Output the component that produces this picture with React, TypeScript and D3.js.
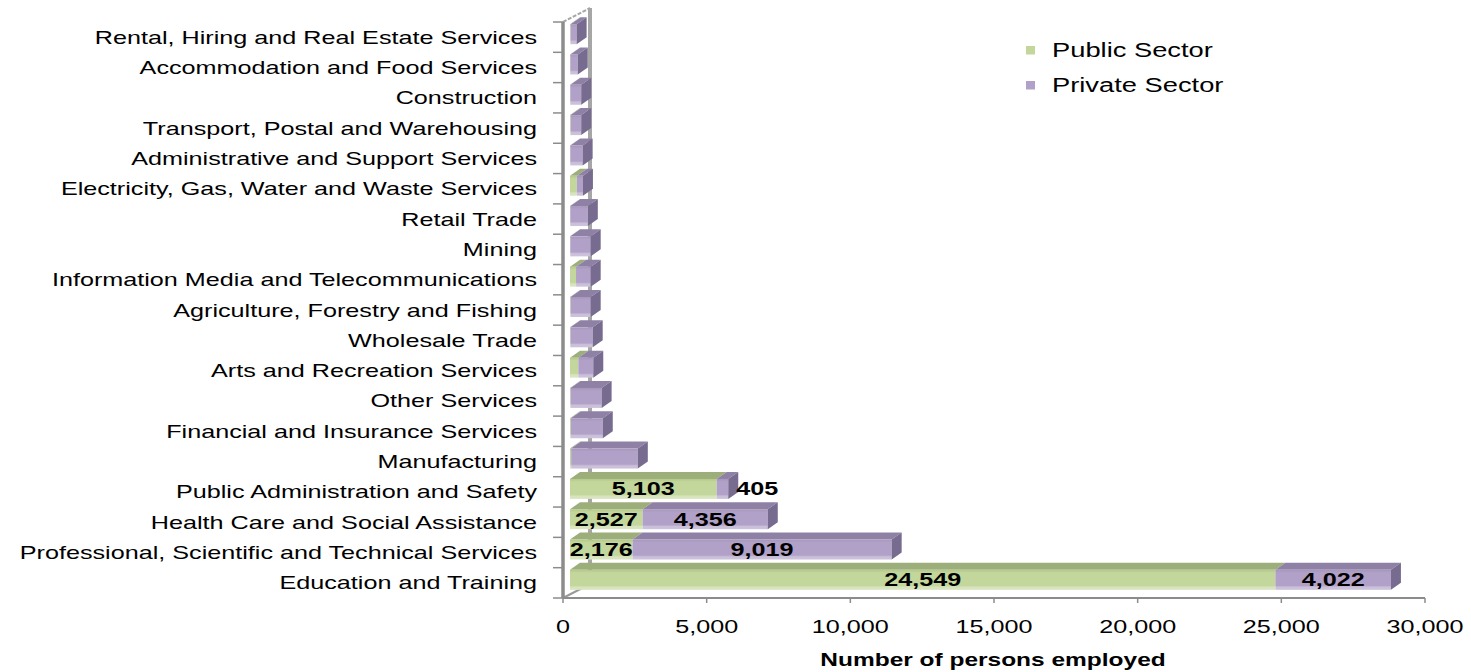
import React from "react";
import * as d3 from "d3";

// Industries, listed from the bottom of the chart to the top
const categories: string[] = [
  "Education and Training",
  "Professional, Scientific and Technical Services",
  "Health Care and Social Assistance",
  "Public Administration and Safety",
  "Manufacturing",
  "Financial and Insurance Services",
  "Other Services",
  "Arts and Recreation Services",
  "Wholesale Trade",
  "Agriculture, Forestry and Fishing",
  "Information Media and Telecommunications",
  "Mining",
  "Retail Trade",
  "Electricity, Gas, Water and Waste Services",
  "Administrative and Support Services",
  "Transport, Postal and Warehousing",
  "Construction",
  "Accommodation and Food Services",
  "Rental, Hiring and Real Estate Services",
];

const publicSector: number[] = [
  24549, 2176, 2527, 5103, 40, 30, 20, 290, 15, 20, 210, 10, 10, 240, 10, 25, 10, 10, 20,
];

const privateSector: number[] = [
  4022, 9019, 4356, 405, 2320, 1110, 1080, 520, 775, 700, 510, 710, 610, 210, 430, 365, 380, 260, 210,
];

// Industries whose segment values are printed on the bars
const labelledCategories: string[] = [
  "Education and Training",
  "Professional, Scientific and Technical Services",
  "Health Care and Social Assistance",
  "Public Administration and Safety",
];

const xTicks: number[] = [0, 5000, 10000, 15000, 20000, 25000, 30000];

const seriesNames: string[] = ["Public Sector", "Private Sector"];

const W = 1471;
const H = 672;
const FONT = "'Liberation Sans', Arial, Helvetica, sans-serif";
const SX = 1.4; // horizontal stretch of all lettering

const palette = [
  { front: "url(#gGreen)", top: "#9cae79", side: "#8a9b68", swatch: "#c3d69b" },
  { front: "url(#gPurple)", top: "#8e81a5", side: "#786b90", swatch: "#b1a0c7" },
];

function SText(props: {
  x: number;
  y: number;
  anchor?: "start" | "middle" | "end";
  size?: number;
  bold?: boolean;
  children: React.ReactNode;
}) {
  const { x, y, anchor = "start", size = 18, bold = false, children } = props;
  return (
    <text
      transform={`translate(${x},${y}) scale(${SX},1)`}
      textAnchor={anchor}
      fontFamily={FONT}
      fontSize={size}
      fontWeight={bold ? "bold" : "normal"}
      fill="#000"
    >
      {children}
    </text>
  );
}

export default function App() {
  const x0 = 563;
  const x1 = 1425;
  const yTop = 22;
  const yBot = 598;
  const wallDx = 27;
  const wallDy = -14;
  const barOx = 7; // front face shift from the axis plane
  const barOy = -3;
  const depthX = 10;
  const depthY = -7;
  const faceH = 20;

  const x = d3.scaleLinear().domain([0, 30000]).range([x0, x1]);
  const y = d3.scaleBand<string>().domain(categories).range([yBot, yTop]).padding(0);
  const bw = y.bandwidth();
  const fmt = d3.format(",");

  const bars = categories.map((c, i) => {
    const vals = [publicSector[i], privateSector[i]];
    const cy = (y(c) as number) + bw / 2 + barOy;
    const top = cy - faceH / 2;
    const bottom = cy + faceH / 2;
    let acc = 0;
    const segs = vals.map((v, s) => {
      const a = x(acc) + barOx;
      acc += v;
      const b = x(acc) + barOx;
      return { s, v, a, b };
    });
    return { c, i, cy, top, bottom, segs };
  });

  const boundaries = d3.range(categories.length + 1).map((k) => yBot - k * bw);

  return (
    <svg
      width={W}
      height={H}
      style={{ position: "absolute", left: 0, top: 0, background: "#fff" }}
    >
      <defs>
        <linearGradient id="gGreen" x1="0" y1="0" x2="0" y2="1">
          <stop offset="0" stopColor="#b5c88a" />
          <stop offset="0.15" stopColor="#c3d69b" />
          <stop offset="0.78" stopColor="#c3d69b" />
          <stop offset="0.86" stopColor="#d6e3bb" />
          <stop offset="1" stopColor="#d9e5c0" />
        </linearGradient>
        <linearGradient id="gPurple" x1="0" y1="0" x2="0" y2="1">
          <stop offset="0" stopColor="#a596bb" />
          <stop offset="0.15" stopColor="#b1a0c7" />
          <stop offset="0.78" stopColor="#b1a0c7" />
          <stop offset="0.86" stopColor="#c9bfd9" />
          <stop offset="1" stopColor="#cdc3dc" />
        </linearGradient>
      </defs>

      {/* back wall edge and frame diagonals */}
      <line x1={x0 + wallDx} y1={yTop + wallDy} x2={x0 + wallDx} y2={yBot + wallDy} stroke="#a6a6a6" strokeWidth={4} />
      <line x1={x0} y1={yTop} x2={x0 + wallDx} y2={yTop + wallDy} stroke="#a6a6a6" strokeWidth={2} strokeDasharray="4,1.5" />
      <line x1={x0} y1={yBot} x2={x0 + wallDx} y2={yBot + wallDy} stroke="#9a9a9a" strokeWidth={2} />

      {/* bars */}
      {bars.map((bar) => {
        const nonZero = bar.segs.filter((s) => s.v > 0);
        const last = nonZero[nonZero.length - 1];
        return (
          <g key={bar.c}>
            {bar.segs.map((sg) => (
              <g key={sg.s}>
                <polygon
                  points={`${sg.a},${bar.top} ${sg.b},${bar.top} ${sg.b + depthX},${bar.top + depthY} ${sg.a + depthX},${bar.top + depthY}`}
                  fill={palette[sg.s].top}
                />
                <rect x={sg.a} y={bar.top} width={Math.max(0, sg.b - sg.a)} height={faceH} fill={palette[sg.s].front} />
              </g>
            ))}
            {last && (
              <polygon
                points={`${last.b},${bar.top} ${last.b + depthX},${bar.top + depthY} ${last.b + depthX},${bar.bottom + depthY} ${last.b},${bar.bottom}`}
                fill={palette[last.s].side}
              />
            )}
          </g>
        );
      })}

      {/* value labels */}
      {bars
        .filter((bar) => labelledCategories.includes(bar.c))
        .map((bar) =>
          bar.segs.map((sg) => {
            const txt = fmt(sg.v);
            const approxW = txt.length * 18 * 0.54 * SX;
            const fits = sg.b - sg.a > approxW * 0.6;
            const tx = fits ? (sg.a + sg.b) / 2 : sg.b + depthX - 2;
            return (
              <SText key={`${bar.c}-${sg.s}`} x={tx} y={bar.cy + 6.5} anchor={fits ? "middle" : "start"} bold>
                {txt}
              </SText>
            );
          })
        )}

      {/* front vertical axis */}
      <line x1={x0} y1={yTop} x2={x0} y2={yBot} stroke="#8c8c8c" strokeWidth={3.5} />
      {boundaries.map((b, k) => (
        <line key={k} x1={x0 - 10} y1={b} x2={x0} y2={b} stroke="#8c8c8c" strokeWidth={1.5} />
      ))}

      {/* horizontal axis */}
      <line x1={x0} y1={yBot} x2={x1} y2={yBot} stroke="#8c8c8c" strokeWidth={2} />
      {xTicks.map((t) => (
        <g key={t}>
          <line x1={x(t)} y1={yBot} x2={x(t)} y2={yBot + 5} stroke="#8c8c8c" strokeWidth={1.5} />
          <SText x={x(t)} y={633} anchor="middle">
            {fmt(t)}
          </SText>
        </g>
      ))}
      <SText x={993} y={666} anchor="middle" size={17.5} bold>
        Number of persons employed
      </SText>

      {/* category labels */}
      {categories.map((c) => (
        <SText key={c} x={537} y={(y(c) as number) + bw / 2 + 6.5} anchor="end">
          {c}
        </SText>
      ))}

      {/* legend */}
      {seriesNames.map((n, s) => (
        <g key={n}>
          <rect x={1026} y={46 + s * 35} width={9} height={8.5} fill={palette[s].swatch} />
          <SText x={1052} y={57 + s * 35} size={19.5}>
            {n}
          </SText>
        </g>
      ))}
    </svg>
  );
}
